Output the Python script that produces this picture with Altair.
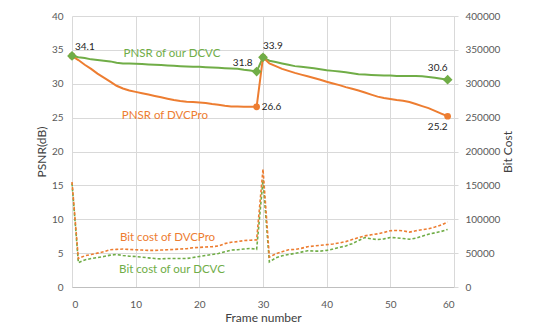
import altair as alt
import pandas as pd

frames = list(range(60))

psnr_dcvc = [34.1, 33.9, 33.8, 33.6, 33.5, 33.4, 33.3, 33.1, 33.0, 33.0,
             32.95, 32.9, 32.85, 32.8, 32.75, 32.7, 32.65, 32.6, 32.55, 32.5,
             32.5, 32.45, 32.4, 32.35, 32.3, 32.25, 32.2, 32.05, 31.95, 31.8,
             33.9, 33.4, 33.2, 33.0, 32.8, 32.6, 32.5, 32.4, 32.3, 32.15,
             32.0, 31.9, 31.8, 31.7, 31.55, 31.4, 31.35, 31.3, 31.25, 31.2,
             31.2, 31.15, 31.15, 31.15, 31.15, 31.1, 31.0, 30.9, 30.75, 30.6]

psnr_dvcpro = [34.1, 33.5, 32.8, 32.2, 31.5, 30.9, 30.3, 29.7, 29.3, 29.0,
               28.8, 28.6, 28.4, 28.2, 28.0, 27.8, 27.6, 27.45, 27.35, 27.3,
               27.25, 27.15, 27.0, 26.9, 26.75, 26.65, 26.65, 26.6, 26.6, 26.6,
               33.9, 33.0, 32.6, 32.2, 31.9, 31.6, 31.35, 31.1, 30.85, 30.6,
               30.3, 30.05, 29.8, 29.5, 29.25, 29.0, 28.7, 28.4, 28.1, 27.9,
               27.75, 27.6, 27.5, 27.3, 27.0, 26.7, 26.4, 26.0, 25.6, 25.2]

bit_dvcpro = [155000, 42000, 46000, 48000, 50000, 52000, 55000, 55500, 56000, 55500,
              55000, 54500, 54000, 54000, 54500, 55000, 55500, 56000, 56500, 58000,
              58500, 59000, 59500, 60500, 64000, 66000, 67000, 68500, 69000, 69500,
              174000, 44000, 49000, 52000, 55000, 55500, 57000, 59500, 60500, 61500,
              62500, 63500, 65000, 67000, 70000, 73000, 75500, 77000, 78500, 80500,
              83000, 83500, 83000, 81000, 83000, 84500, 86000, 88500, 91500, 96000]

bit_dcvc = [153000, 36000, 40000, 42000, 43500, 45000, 47000, 48000, 46500, 45500,
            45000, 44000, 43000, 42000, 41500, 42000, 42000, 42000, 42000, 43500,
            45000, 46500, 48000, 49500, 52000, 54500, 55000, 56000, 57000, 55500,
            158000, 37000, 43000, 46000, 48000, 49500, 51500, 53500, 53000, 53000,
            54000, 56000, 58500, 60500, 64000, 68500, 73000, 71000, 70000, 71000,
            73000, 72500, 71500, 70500, 72000, 75000, 78000, 80000, 82000, 85000]

marker_frames = [0, 29, 30, 59]
left_ticks = [0, 5, 10, 15, 20, 25, 30, 35, 40]
right_ticks = [0, 50000, 100000, 150000, 200000, 250000, 300000, 350000, 400000]
x_ticks = [0, 10, 20, 30, 40, 50, 60]

GREEN = "#70AD47"
ORANGE = "#ED7D31"
FONT = "Lato"

df = pd.DataFrame({"frame": frames, "dcvc": psnr_dcvc, "dvcpro": psnr_dvcpro,
                   "bit_dvcpro": bit_dvcpro, "bit_dcvc": bit_dcvc})
mk = df[df["frame"].isin(marker_frames)]

lab_df = pd.DataFrame({
    "frame": [0, 29, 29, 30, 59, 59],
    "dcvc": [psnr_dcvc[0], psnr_dcvc[29], psnr_dvcpro[29], psnr_dcvc[30], psnr_dcvc[59], psnr_dvcpro[59]],
    "text": ["34.1", "31.8", "26.6", "33.9", "30.6", "25.2"],
    "kind": ["tl", "left", "right", "top", "topr", "bottomr"],
})

ann_psnr = pd.DataFrame({"frame": [15.7, 14.6], "dcvc": [34.4, 25.2],
                         "text": ["PNSR of our DCVC", "PNSR of DVCPro"],
                         "c": [GREEN, ORANGE]})
ann_bit = pd.DataFrame({"frame": [15.0, 15.7], "bit_dvcpro": [72800, 25000],
                        "text": ["Bit cost of DVCPro", "Bit cost of our DCVC"],
                        "c": [ORANGE, GREEN]})

xaxis = alt.Axis(title="Frame number", values=x_ticks, grid=True, gridColor="#d9d9d9",
                 ticks=False, labelOverlap=False, domainColor="#bfbfbf",
                 labelPadding=12, titlePadding=3)
xscale = alt.Scale(domain=[0, 60], nice=False)

def X():
    return alt.X("frame:Q", scale=xscale, axis=xaxis)

yleft = alt.Scale(domain=[0, 40], nice=False)
yaxis_left = alt.Axis(title="PSNR(dB)", values=left_ticks,
                      grid=True, gridColor="#d9d9d9", domain=False, ticks=False,
                      labelPadding=9, titlePadding=3, labelOverlap=False)

def YL(field):
    return alt.Y(field, scale=yleft, axis=yaxis_left, title="PSNR(dB)")

yright = alt.Scale(domain=[0, 400000], nice=False)
yaxis_right = alt.Axis(title="Bit Cost", orient="right", values=right_ticks,
                       format="d", grid=False, domainColor="#d9d9d9", tickColor="#d9d9d9",
                       tickSize=4, labelPadding=7, titlePadding=15, titleAngle=270,
                       labelOverlap=False)

def YR(field):
    return alt.Y(field, scale=yright, axis=yaxis_right, title="Bit Cost")

base = alt.Chart(df)

l_dcvc = base.mark_line(color=GREEN, strokeWidth=2).encode(x=X(), y=YL("dcvc:Q"))
l_dvcpro = base.mark_line(color=ORANGE, strokeWidth=2).encode(x=X(), y=YL("dvcpro:Q"))
m_dcvc = alt.Chart(mk).mark_point(shape="diamond", filled=True, color=GREEN, size=95, opacity=1).encode(
    x=X(), y=YL("dcvc:Q"))
m_dvcpro = alt.Chart(mk).mark_point(shape="circle", filled=True, color=ORANGE, size=45, opacity=1).encode(
    x=X(), y=YL("dvcpro:Q"))

def lab(kind, align, dx, dy):
    return alt.Chart(lab_df[lab_df["kind"] == kind]).mark_text(
        font=FONT, fontSize=10, color="#262626", align=align, baseline="middle", dx=dx, dy=dy
    ).encode(x=X(), y=YL("dcvc:Q"), text="text:N")

labels = [
    lab("tl", "left", 3, -9),
    lab("left", "right", -4, -9),
    lab("right", "left", 5, 0),
    lab("top", "left", 0, -11),
    lab("topr", "right", 0, -12),
    lab("bottomr", "right", 0, 11),
]

a_psnr = alt.Chart(ann_psnr).mark_text(font=FONT, fontSize=11.5, align="center", baseline="middle").encode(
    x=X(), y=YL("dcvc:Q"), text="text:N", color=alt.Color("c:N", scale=None))

left_layer = alt.layer(l_dcvc, l_dvcpro, m_dvcpro, m_dcvc, *labels, a_psnr)

b_dvcpro = base.mark_line(color=ORANGE, strokeWidth=1.6, strokeDash=[3, 2]).encode(
    x=X(), y=YR("bit_dvcpro:Q"))
b_dcvc = base.mark_line(color=GREEN, strokeWidth=1.6, strokeDash=[3, 2]).encode(
    x=X(), y=YR("bit_dcvc:Q"))
a_bit = alt.Chart(ann_bit).mark_text(font=FONT, fontSize=11.5, align="center", baseline="middle").encode(
    x=X(), y=YR("bit_dvcpro:Q"), text="text:N", color=alt.Color("c:N", scale=None))

right_layer = alt.layer(b_dcvc, b_dvcpro, a_bit)

chart = alt.layer(right_layer, left_layer).resolve_scale(y="independent").properties(
    width=382, height=271,
    autosize=alt.AutoSizeParams(type="none"),
    padding={"left": 64, "top": 8, "right": 70, "bottom": 38},
).configure_view(stroke=None).configure_axis(
    labelFont=FONT, titleFont=FONT, labelFontSize=10, titleFontSize=12,
    labelColor="#595959", titleColor="#404040", titleFontWeight="normal"
)

chart.save("out.html", embed_options={"renderer": "svg", "actions": False})
